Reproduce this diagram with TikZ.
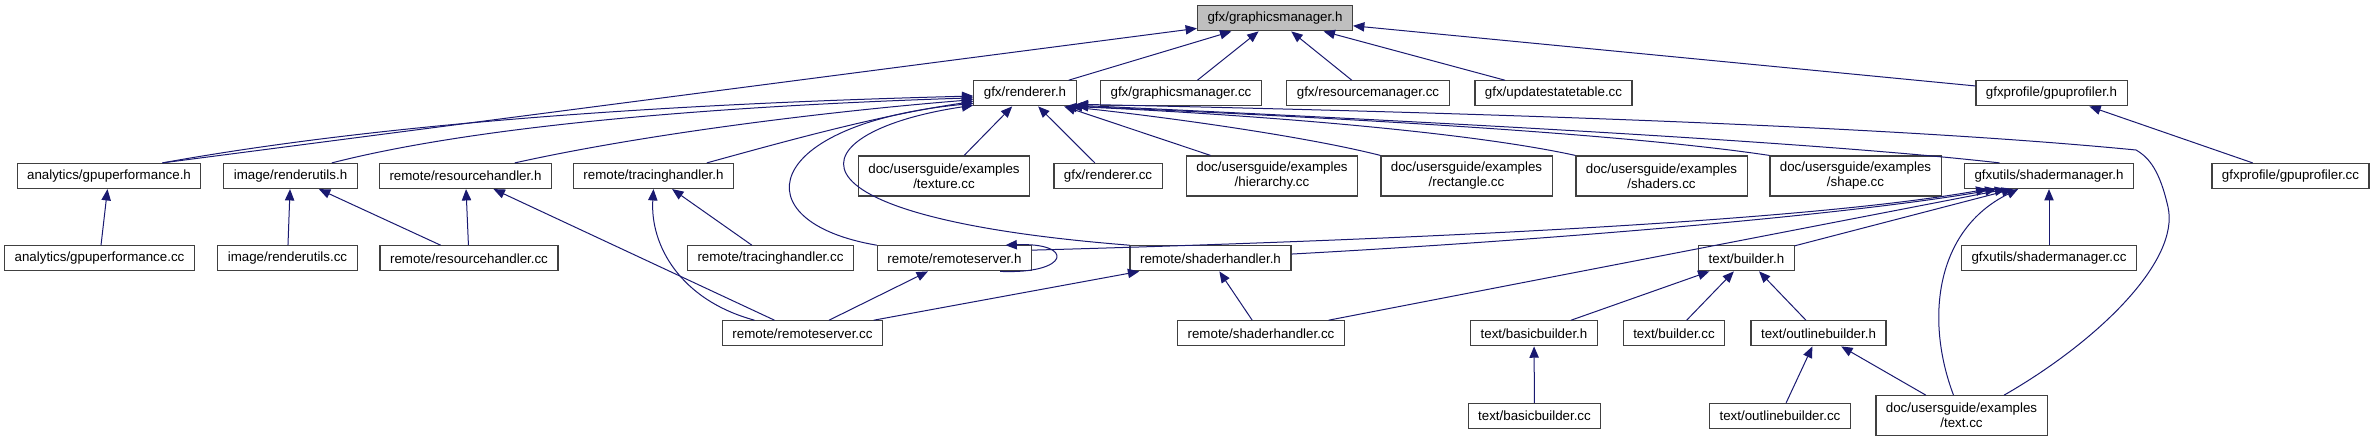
\documentclass[tikz,border=0pt]{standalone}
\usepackage{fontspec}
\setmainfont{Liberation Sans}
\usetikzlibrary{arrows.meta}
\definecolor{edgeblue}{RGB}{25,25,112}
\tikzset{
  filebox/.style={draw=black!75,line width=0.9pt,fill=white,inner xsep=7.5pt,inner ysep=0pt,minimum height=18.75pt,align=center,font=\fontsize{10}{11.25}\selectfont},
  twoline/.style={filebox,minimum height=30pt},
  focus/.style={filebox,fill=black!25},
  dep/.style={edgeblue,line width=0.75pt,-{Triangle[length=8.5pt,width=7pt]}},
}
\begin{document}
\begin{tikzpicture}[x=0.75pt,y=0.75pt]
\useasboundingbox (0,0) rectangle (2375,-443);

\node[focus] (gmh) at (1275,-18.3) {gfx/graphicsmanager.h};

\node[filebox] (rh) at (1025,-93.3) {gfx/renderer.h};
\node[filebox] (gmcc) at (1181,-93.3) {gfx/graphicsmanager.cc};
\node[filebox] (rmcc) at (1368,-93.3) {gfx/resourcemanager.cc};
\node[filebox] (ustcc) at (1553.5,-93.3) {gfx/updatestatetable.cc};
\node[filebox] (gph) at (2051.5,-93.3) {gfxprofile/gpuprofiler.h};

\node[filebox] (gpuh) at (109,-176) {analytics/gpuperformance.h};
\node[filebox] (ruh) at (290.5,-176) {image/renderutils.h};
\node[filebox] (resh) at (465.5,-176) {remote/resourcehandler.h};
\node[filebox] (trh) at (653.5,-176) {remote/tracinghandler.h};
\node[twoline] (extex) at (944,-176) {doc/usersguide/examples\\/texture.cc};
\node[filebox] (rcc) at (1108,-176) {gfx/renderer.cc};
\node[twoline] (exhier) at (1272,-176) {doc/usersguide/examples\\/hierarchy.cc};
\node[twoline] (exrect) at (1466.5,-176) {doc/usersguide/examples\\/rectangle.cc};
\node[twoline] (exshad) at (1661.5,-176) {doc/usersguide/examples\\/shaders.cc};
\node[twoline] (exshape) at (1855.5,-176) {doc/usersguide/examples\\/shape.cc};
\node[filebox] (smh) at (2049,-176) {gfxutils/shadermanager.h};
\node[filebox] (gpcc) at (2290.5,-176) {gfxprofile/gpuprofiler.cc};

\node[filebox] (gpucc) at (99.5,-258.3) {analytics/gpuperformance.cc};
\node[filebox] (rucc) at (287.5,-258.3) {image/renderutils.cc};
\node[filebox] (rescc) at (469,-258.3) {remote/resourcehandler.cc};
\node[filebox] (trcc) at (770.5,-258.3) {remote/tracinghandler.cc};
\node[filebox] (rsvh) at (954.5,-258.3) {remote/remoteserver.h};
\node[filebox] (shh) at (1210.5,-258.3) {remote/shaderhandler.h};
\node[filebox] (bh) at (1746.5,-258.3) {text/builder.h};
\node[filebox] (smcc) at (2049,-258.3) {gfxutils/shadermanager.cc};

\node[filebox] (rsvcc) at (802.5,-333.3) {remote/remoteserver.cc};
\node[filebox] (shcc) at (1261,-333.3) {remote/shaderhandler.cc};
\node[filebox] (bbh) at (1534,-333.3) {text/basicbuilder.h};
\node[filebox] (bcc) at (1674,-333.3) {text/builder.cc};
\node[filebox] (obh) at (1818.5,-333.3) {text/outlinebuilder.h};

\node[filebox] (bbcc) at (1534.5,-416) {text/basicbuilder.cc};
\node[filebox] (obcc) at (1780,-416) {text/outlinebuilder.cc};
\node[twoline] (extext) at (1961.5,-415.7) {doc/usersguide/examples\\/text.cc};

% into gfx/graphicsmanager.h
\draw[dep] ([xshift=40pt]gpuh.north) -- (gmh);
\draw[dep] (rh) -- (gmh);
\draw[dep] (gmcc) -- (gmh);
\draw[dep] (rmcc) -- (gmh);
\draw[dep] (ustcc) -- (gmh);
\draw[dep] (gph) -- (gmh);

% into gfx/renderer.h
\draw[dep] ([xshift=40pt]gpuh.north) .. controls (400,-120) and (700,-103) .. (rh.183);
\draw[dep] ([xshift=31pt]ruh.north) .. controls (480,-125) and (720,-106) .. (rh.185);
\draw[dep] ([xshift=37pt]resh.north) .. controls (640,-135) and (820,-112) .. (rh.187);
\draw[dep] ([xshift=40pt]trh.north) .. controls (790,-140) and (880,-115) .. (rh.189);
\draw[dep] (rsvh.north west) .. controls (740,-222) and (760,-124) .. (rh.191);
\draw[dep] (shh.north west) .. controls (760,-216) and (800,-131) .. (rh.193);
\draw[dep] (extex) -- (rh);
\draw[dep] (rcc) -- (rh);
\draw[dep] (exhier) -- (rh);
\draw[dep] (exrect.north west) .. controls (1300,-135) and (1150,-115) .. (rh.-18);
\draw[dep] (exshad.north west) .. controls (1450,-128) and (1200,-112) .. (rh.-16);
\draw[dep] (exshape.north west) .. controls (1600,-130) and (1250,-114) .. (rh.-14);
\draw[dep] ([xshift=-37pt]smh.north) .. controls (1800,-140) and (1350,-118) .. (rh.-13);
\draw[dep] ([xshift=32pt]extext.north) .. controls (2100,-340) and (2180,-260) .. (2168,-207)
  .. controls (2160,-172) and (2150,-158) .. (2136,-150)
  .. controls (1900,-127) and (1500,-113) .. (rh.-12);

\draw[dep] (gpcc) -- (gph);
\draw[dep] (gpucc) -- (gpuh);
\draw[dep] (rucc) -- (ruh);
\draw[dep] (rescc) -- (ruh);
\draw[dep] (rescc) -- (resh);
\draw[dep] (rsvcc) -- (resh);
\draw[dep] ([xshift=-36pt]rsvcc.north) .. controls (680,-300) and (650,-245) .. (trh.south);
\draw[dep] (trcc) -- (trh);

% into gfxutils/shadermanager.h
\draw[dep] (rsvh.6) .. controls (1400,-240) and (1800,-222) .. (smh.192);
\draw[dep] (shh.3) .. controls (1550,-240) and (1850,-215) .. (smh.194);
\draw[dep] (shcc) -- (smh.197);
\draw[dep] (bh) -- (smh.200);
\draw[dep] ([xshift=-6pt]extext.north) .. controls (1925,-320) and (1935,-230) .. (smh.203);
\draw[dep] (smcc) -- (smh);

\draw[dep] ([xshift=-24pt]rsvh.south east) .. controls +(70,-3) and +(70,3) .. ([xshift=-20pt]rsvh.north east);
\draw[dep] (rsvcc) -- (rsvh);
\draw[dep] (rsvcc) -- (shh);
\draw[dep] (shcc) -- (shh);

\draw[dep] (bbh) -- (bh);
\draw[dep] (bcc) -- (bh);
\draw[dep] (obh) -- (bh);
\draw[dep] (bbcc) -- (bbh);
\draw[dep] (obcc) -- (obh);
\draw[dep] (extext) -- (obh);

\end{tikzpicture}
\end{document}
